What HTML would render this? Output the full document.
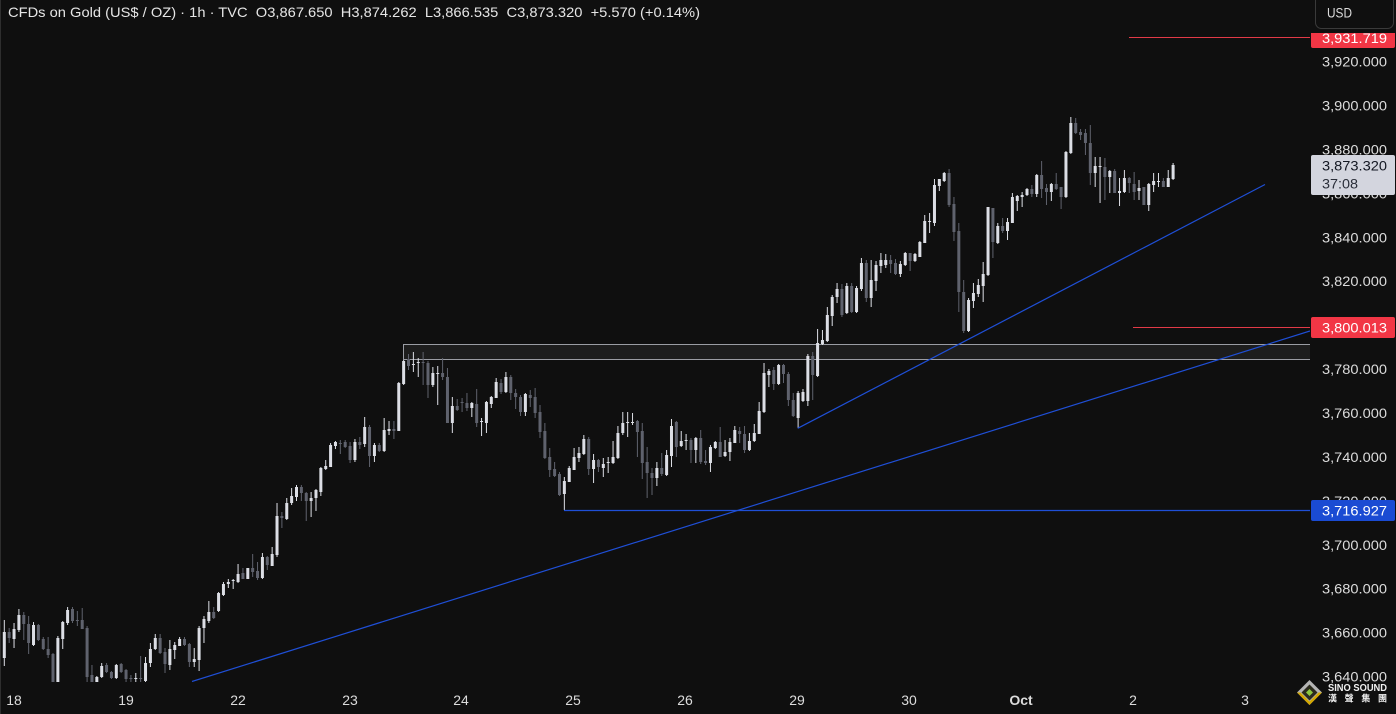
<!DOCTYPE html>
<html><head><meta charset="utf-8">
<style>
html,body{margin:0;padding:0;background:#0f0f0f;overflow:hidden;width:1396px;height:714px}
svg{display:block}
text{font-family:"Liberation Sans","Noto Sans CJK TC",sans-serif}
</style></head>
<body>
<svg width="1396" height="714" viewBox="0 0 1396 714" xmlns="http://www.w3.org/2000/svg">
<defs>
<clipPath id="plot"><rect x="0" y="0" width="1310" height="682"/></clipPath>
<clipPath id="topcut"><rect x="1300" y="33" width="96" height="40"/></clipPath>
</defs>
<rect x="0" y="0" width="1396" height="714" fill="#0f0f0f"/>
<rect x="0" y="0" width="1" height="714" fill="#2e2e2e"/>

<g clip-path="url(#plot)">
<rect x="403.5" y="344.5" width="907" height="15" fill="#1d1d1d" stroke="#9a9ca3" stroke-width="1"/>

<g transform="translate(4.3,0) scale(4.87,1)" fill="none">
<path stroke="#dcdee5" stroke-width="0.2053" d="M0 620V666M2 623V648M3 609V632M6 622V646M11 636V684M12 621V649M13 607V625M19 676V684M20 663V678M23 664V679M27 673V684M29 657V684M30 643V667M31 634V650M34 640V670M35 642V659M36 637V646M39 648V667M40 626V671M41 616V643M42 601V623M44 592V612M45 582V596M46 579V588M47 579V589M48 564V583M50 568V579M53 553V579M55 547V566M56 503V557M58 498V520M59 488V505M60 485V501M63 492V517M64 489V511M65 467V496M66 460V470M67 443V467M68 441V449M72 439V462M74 417V447M76 443V462M78 418V452M79 421V435M81 382V431M82 360V385M84 352V372M85 358V377M88 367V387M89 366V405M92 397V433M96 402V417M98 418V436M99 401V433M100 396V408M101 378V398M103 372V393M107 393V416M115 477V510M116 466V482M117 448V470M118 447V462M119 435V455M121 454V483M123 458V477M124 457V473M125 441V464M126 426V459M127 412V435M128 412V437M129 413V425M134 462V486M136 450V476M137 419V467M139 431V447M140 434V450M142 437V463M145 445V472M146 441V449M148 440V457M149 438V461M150 426V443M153 433V451M154 424V442M155 402V434M156 363V413M157 369V387M159 364V385M163 391V428M164 389V402M165 354V406M167 329V377M168 330V345M169 307V342M170 295V326M171 283V303M173 283V314M175 286V313M176 258V291M178 260V307M179 261V291M180 253V273M181 254V268M184 261V277M185 252V266M187 253V262M188 241V257M189 215V243M190 213V233M191 179V226M192 179V191M193 172V182M198 298V332M199 283V308M200 279V297M201 262V302M202 207V276M204 223V244M206 218V240M207 193V223M208 195V211M209 192V207M210 188V196M212 174V197M215 183V201M218 151V198M219 117V154M224 157V187M225 157V203M227 170V193M229 178V206M230 170V193M233 180V200M235 183V211M236 173V192M237 173V187M239 170V187M240 163V180"/>
<path stroke="#dcdee5" stroke-width="0.616" d="M0 632V658M2 629V639M3 615V630M6 625V645M11 638V684M12 622V639M13 610V623M19 677V684M20 666V677M23 665V678M27 678V679M29 663V681M30 649V663M31 638V649M34 649V665M35 645V650M36 639V646M39 659V662M40 628V660M41 619V628M42 612V621M44 593V611M45 584V595M46 582V584M47 580V581M48 574V582M50 568V579M53 557V578M55 554V566M56 516V555M58 503V519M59 496V503M60 487V497M63 498V501M64 490V498M65 468V492M66 466V469M67 445V467M68 442V446M72 442V460M74 427V444M76 445V456M78 430V451M79 429V431M81 383V431M82 361V384M84 364V365M85 362V363M88 373V385M89 373V374M92 406V423M96 403V408M98 421V422M99 402V423M100 397V404M101 382V398M103 377V392M107 394V412M115 481V494M116 468V482M117 457V470M118 453V458M119 439V454M121 460V469M123 464V468M124 462V463M125 457V463M126 433V458M127 423V433M128 422V423M129 422V423M134 468V478M136 455V475M137 426V456M139 441V446M140 440V441M142 438V450M145 447V463M146 442V448M148 452V456M149 442V452M150 430V443M153 441V450M154 433V441M155 411V434M156 373V412M157 371V375M159 365V384M163 393V418M164 392V401M165 356V401M167 343V376M168 340V344M169 315V341M170 297V316M171 289V297M173 286V313M175 288V312M176 263V289M178 280V298M179 265V281M180 260V266M181 260V265M184 264V274M185 253V265M187 254V261M188 242V257M189 221V243M190 221V222M191 185V223M192 179V186M193 173V181M198 300V331M199 293V301M200 285V294M201 274V286M202 207V275M204 226V243M206 222V231M207 197V223M208 196V201M209 195V197M210 189V195M212 175V194M215 184V192M218 152V197M219 123V153M224 166V173M225 166V167M227 171V177M229 191V193M230 178V192M233 188V191M235 184V205M236 181V185M237 181V182M239 178V187M240 165V179"/>
<path stroke="#5f626d" stroke-width="0.2053" d="M1 628V643M4 612V640M5 616V654M7 624V641M8 637V650M9 637V658M10 653V684M14 607V623M15 611V626M16 608V629M17 626V684M18 665V684M21 663V673M22 671V679M24 663V673M25 669V684M26 675V684M28 656V684M32 634V654M33 648V673M37 637V646M38 643V667M43 607V619M49 568V579M51 554V577M52 562V580M54 556V570M57 512V528M61 485V501M62 492V521M69 440V454M70 440V448M71 442V463M73 437V449M75 425V467M77 443V452M80 421V439M83 354V370M86 352V385M87 361V398M90 358V380M91 368V423M93 399V411M94 398V412M95 393V411M97 389V427M102 379V394M104 375V400M105 389V409M106 395V416M108 390V407M109 388V418M110 405V438M111 423V459M112 448V477M113 462V477M114 472V496M120 437V475M122 459V472M130 420V457M131 423V479M132 447V498M133 468V495M135 453V476M138 421V457M141 438V463M143 430V464M144 450V465M147 427V457M151 427V443M152 426V453M158 367V390M160 364V383M161 372V406M162 393V417M166 352V400M172 284V317M174 283V313M177 260V302M182 255V273M183 259V275M186 253V271M194 169V207M195 197V241M196 223V312M197 280V333M203 208V258M205 218V233M211 185V197M213 161V198M214 184V205M216 173V190M217 187V209M220 118V134M221 129V140M222 129V155M223 125V185M226 158V200M228 169V193M231 177V193M232 172V200M234 187V205M238 178V187"/>
<path stroke="#5f626d" stroke-width="0.616" d="M1 632V638M4 615V624M5 624V643M7 625V640M8 639V649M9 649V655M10 654V684M14 609V621M15 620V621M16 620V629M17 628V677M18 675V684M21 665V672M22 672V678M24 664V672M25 670V679M26 678V679M28 678V679M32 638V653M33 652V664M37 639V645M38 644V662M43 612V618M49 573V579M51 568V572M52 571V578M54 557V565M57 516V518M61 487V493M62 493V501M69 443V444M70 442V447M71 446V460M73 442V445M75 427V456M77 445V451M80 429V431M83 359V366M86 362V363M87 363V385M90 373V377M91 377V423M93 406V410M94 402V403M95 403V408M97 404V423M102 383V392M104 377V393M105 393V397M106 397V412M108 395V398M109 397V413M110 412V432M111 431V458M112 457V470M113 469V476M114 474V495M120 439V469M122 460V467M130 421V432M131 431V463M132 462V473M133 473V478M135 468V474M138 422V447M141 440V450M143 438V462M144 461V463M147 442V457M151 431V434M152 434V450M158 370V384M160 365V374M161 374V400M162 400V416M166 356V375M172 289V315M174 286V312M177 263V298M182 260V264M183 263V274M186 253V261M194 173V205M195 204V232M196 231V292M197 292V331M203 208V242M205 226V231M211 189V194M213 175V189M214 188V192M216 184V189M217 187V197M220 123V133M221 132V135M222 133V143M223 143V173M226 167V177M228 171V193M231 178V183M232 184V192M234 187V205M238 181V187"/>
</g>

<g fill="none" stroke-width="1.2">
<line x1="192" y1="681.5" x2="1310" y2="331" stroke="#1f4fd6"/>
<line x1="564" y1="510.5" x2="1310" y2="510.5" stroke="#1f4fd6"/>
<line x1="797.7" y1="428.3" x2="1265" y2="184.5" stroke="#1f4fd6"/>
<line x1="1129" y1="37.5" x2="1310" y2="37.5" stroke="#e23a47" stroke-width="1"/>
<line x1="1133" y1="327.5" x2="1310" y2="327.5" stroke="#e23a47" stroke-width="1"/>
</g>
</g>

<text x="8" y="17" font-size="14" fill="#e6e6e6" style="white-space:pre" xml:space="preserve" textLength="692" lengthAdjust="spacingAndGlyphs">CFDs on Gold (US$ / OZ) · 1h · TVC  O3,867.650  H3,874.262  L3,866.535  C3,873.320  +5.570 (+0.14%)</text>

<g font-size="14" fill="#dcdcdc" text-anchor="end">
<text x="1387" y="66.7" textLength="65" lengthAdjust="spacingAndGlyphs">3,920.000</text>
<text x="1387" y="110.6" textLength="65" lengthAdjust="spacingAndGlyphs">3,900.000</text>
<text x="1387" y="154.5" textLength="65" lengthAdjust="spacingAndGlyphs">3,880.000</text>
<text x="1387" y="198.4" textLength="65" lengthAdjust="spacingAndGlyphs">3,860.000</text>
<text x="1387" y="242.3" textLength="65" lengthAdjust="spacingAndGlyphs">3,840.000</text>
<text x="1387" y="286.2" textLength="65" lengthAdjust="spacingAndGlyphs">3,820.000</text>
<text x="1387" y="374.2" textLength="65" lengthAdjust="spacingAndGlyphs">3,780.000</text>
<text x="1387" y="418.1" textLength="65" lengthAdjust="spacingAndGlyphs">3,760.000</text>
<text x="1387" y="462" textLength="65" lengthAdjust="spacingAndGlyphs">3,740.000</text>
<text x="1387" y="505.9" textLength="65" lengthAdjust="spacingAndGlyphs">3,720.000</text>
<text x="1387" y="549.8" textLength="65" lengthAdjust="spacingAndGlyphs">3,700.000</text>
<text x="1387" y="593.7" textLength="65" lengthAdjust="spacingAndGlyphs">3,680.000</text>
<text x="1387" y="637.6" textLength="65" lengthAdjust="spacingAndGlyphs">3,660.000</text>
<text x="1387" y="681.7" textLength="65" lengthAdjust="spacingAndGlyphs">3,640.000</text>
</g>

<g clip-path="url(#topcut)">
<rect x="1311" y="26" width="84" height="22" rx="2" fill="#f23645"/>
<text x="1387" y="43" font-size="14" fill="#ffffff" text-anchor="end" textLength="65" lengthAdjust="spacingAndGlyphs">3,931.719</text>
</g>
<rect x="1311" y="317" width="84" height="21" rx="2" fill="#f23645"/>
<text x="1387" y="332.5" font-size="14" fill="#ffffff" text-anchor="end" textLength="65" lengthAdjust="spacingAndGlyphs">3,800.013</text>
<rect x="1311" y="500" width="84" height="21" rx="2" fill="#1a4bd3"/>
<text x="1387" y="515.3" font-size="14" fill="#ffffff" text-anchor="end" textLength="65" lengthAdjust="spacingAndGlyphs">3,716.927</text>
<rect x="1311" y="155" width="84" height="40" rx="2" fill="#d3d5de"/>
<text x="1387" y="170.3" font-size="14" fill="#131722" text-anchor="end" textLength="65" lengthAdjust="spacingAndGlyphs">3,873.320</text>
<text x="1322" y="188.6" font-size="14" fill="#2a2e39" textLength="36" lengthAdjust="spacingAndGlyphs">37:08</text>

<rect x="1315.5" y="-6" width="78" height="34.5" rx="6" fill="#0f0f0f" stroke="#3a3a3a" stroke-width="1"/>
<text x="1327" y="17.5" font-size="14" fill="#dcdcdc" textLength="25" lengthAdjust="spacingAndGlyphs">USD</text>

<g font-size="14" fill="#dcdcdc" text-anchor="middle">
<text x="14" y="705">18</text>
<text x="126" y="705">19</text>
<text x="238" y="705">22</text>
<text x="350" y="705">23</text>
<text x="461" y="705">24</text>
<text x="573" y="705">25</text>
<text x="685" y="705">26</text>
<text x="797" y="705">29</text>
<text x="909" y="705">30</text>
<text x="1021" y="705" font-weight="bold">Oct</text>
<text x="1133" y="705">2</text>
<text x="1245" y="705">3</text>
</g>

<polygon points="1309.5,680 1322,692.5 1309.5,705 1297,692.5" fill="#b4b4b4"/>
<polygon points="1297,692.5 1309.5,705 1322,692.5 1318.5,692.5 1309.5,701.5 1300.5,692.5" fill="#d4a800"/>
<polygon points="1309.5,684.5 1317.5,692.5 1309.5,700.5 1301.5,692.5" fill="#2b2a1c"/>
<polygon points="1309.5,689 1313,692.5 1309.5,696 1306,692.5" fill="#8cc63f"/>
<text x="1328" y="691" font-size="10" font-weight="bold" fill="#f0f0f0" textLength="59" lengthAdjust="spacingAndGlyphs">SINO SOUND</text>
<text x="1328" y="701.5" font-size="9" font-weight="bold" fill="#f0f0f0" textLength="59" lengthAdjust="spacing">漢聲集團</text>
</svg>
</body></html>
